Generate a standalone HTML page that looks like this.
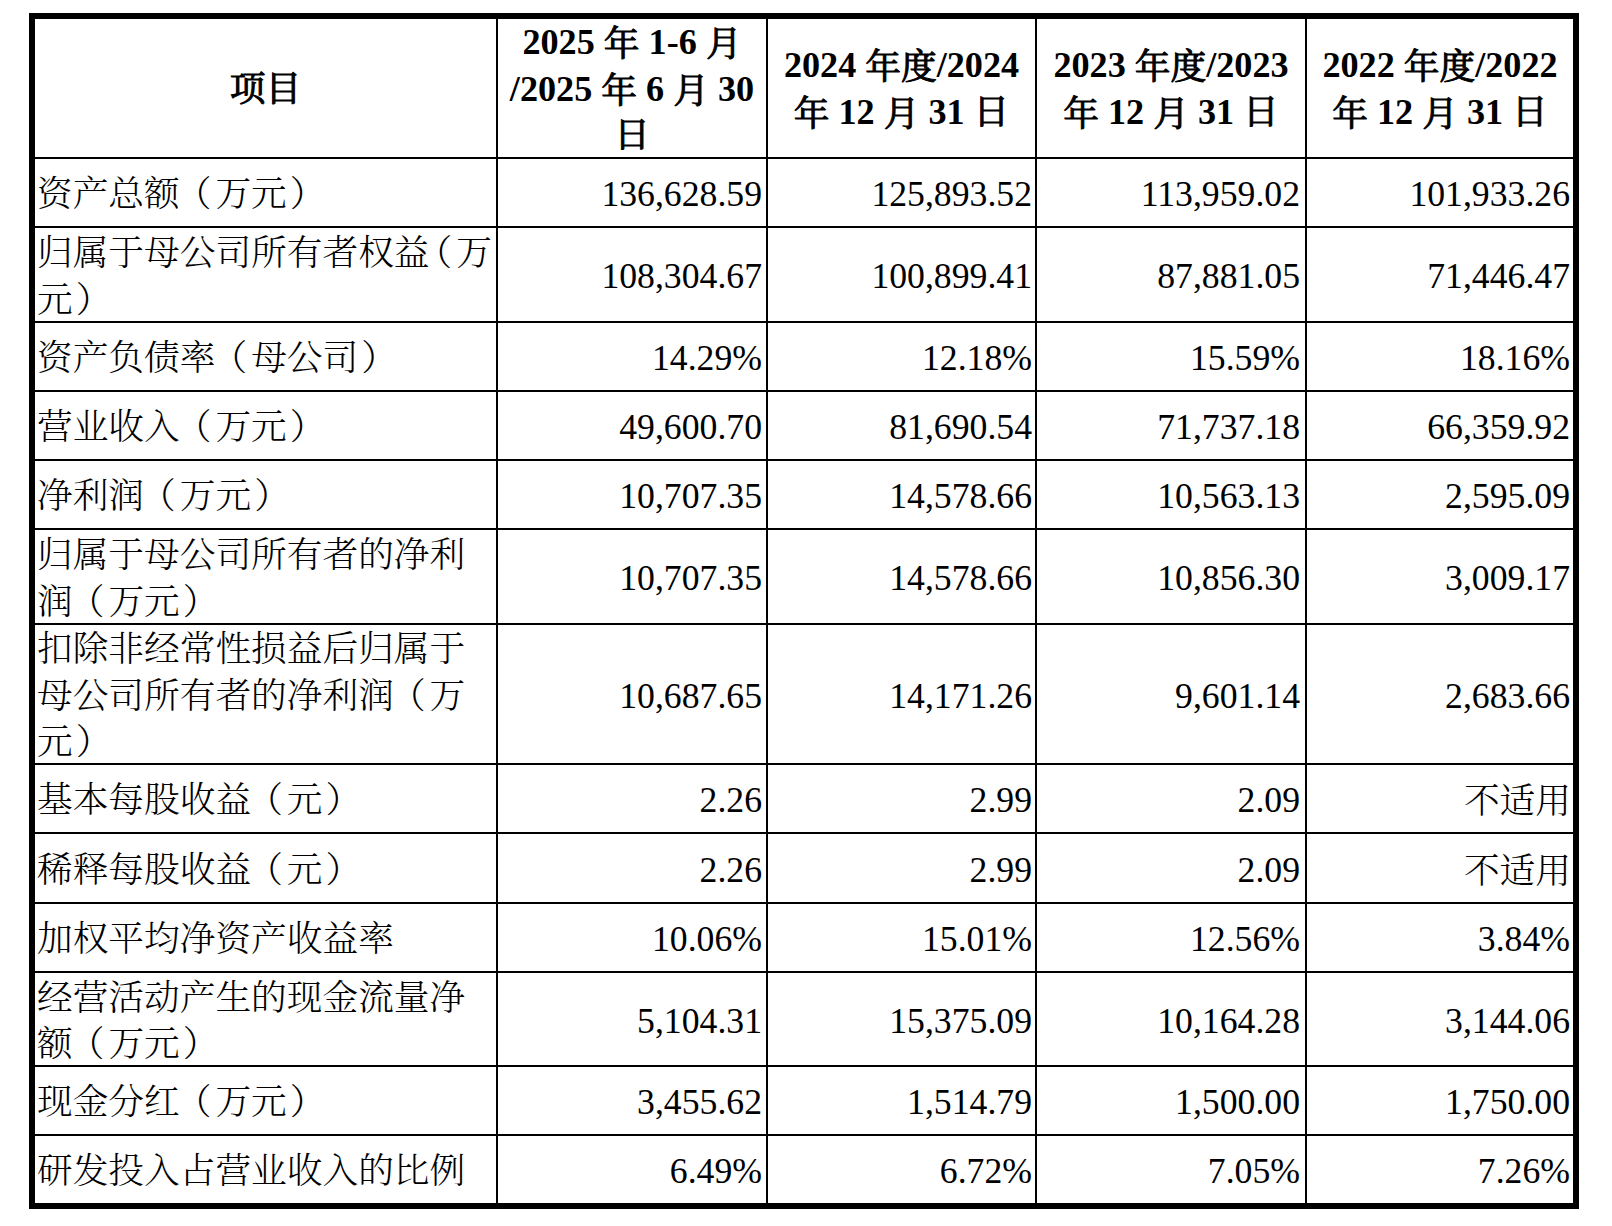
<!DOCTYPE html>
<html lang="zh-CN">
<head>
<meta charset="utf-8">
<title>主要财务数据</title>
<style>
html,body{margin:0;padding:0;background:#fff;}
body{width:1612px;height:1226px;position:relative;overflow:hidden;font-family:"Liberation Serif","Noto Serif CJK SC",serif;font-size:35.7px;font-weight:300;color:#000;}
table{position:absolute;left:29px;top:13px;border:6px solid #000;border-collapse:separate;border-spacing:0;table-layout:fixed;width:1550px;}
th,td{padding:0;border:0;border-right:2px solid #000;border-bottom:2px solid #000;vertical-align:top;}
th:last-child,td:last-child{border-right:0;}
tbody tr:last-child td{border-bottom:0;}
.in{display:flex;align-items:center;box-sizing:border-box;line-height:47px;white-space:nowrap;}
td.t .in{justify-content:flex-start;padding-left:2px;line-height:46.5px;}
td.t .in>span{position:relative;top:2px;}
.po{position:relative;left:-4px;}
.pc{position:relative;left:3px;}
td.n .in{justify-content:flex-end;}
td.n .in>span{position:relative;top:2px;}
td.n .in>span.k{top:3px;}
th .in{justify-content:center;text-align:center;font-weight:600;}
th .in>span{position:relative;top:1px;font-size:36.2px;}
th span.k{font-size:35.7px;position:relative;top:2px;font-weight:400;-webkit-text-stroke:1px #000;}

</style>
</head>
<body>
<table>
<colgroup><col style="width:463px"><col style="width:270px"><col style="width:269px"><col style="width:270px"><col style="width:266px"></colgroup>
<thead><tr>
<th><div class="in" style="height:138px"><span><span class="k" style="top:0px">项目</span></span></div></th>
<th><div class="in" style="height:138px"><span>2025 <span class="k">年</span> 1-6 <span class="k">月</span><br>/2025 <span class="k">年</span> 6 <span class="k">月</span> 30<br><span class="k" style="top:-0.5px">日</span></span></div></th>
<th><div class="in" style="height:138px"><span>2024 <span class="k">年度</span>/2024<br><span class="k">年</span> 12 <span class="k">月</span> 31 <span class="k" style="top:-0.5px">日</span></span></div></th>
<th><div class="in" style="height:138px"><span>2023 <span class="k">年度</span>/2023<br><span class="k">年</span> 12 <span class="k">月</span> 31 <span class="k" style="top:-0.5px">日</span></span></div></th>
<th><div class="in" style="height:138px"><span>2022 <span class="k">年度</span>/2022<br><span class="k">年</span> 12 <span class="k">月</span> 31 <span class="k" style="top:-0.5px">日</span></span></div></th>
</tr></thead>
<tbody>
<tr><td class="t"><div class="in" style="height:67px"><span>资产总额<span class="po">（</span>万元<span class="pc">）</span></span></div></td><td class="n"><div class="in" style="height:67px;padding-right:4px"><span>136,628.59</span></div></td><td class="n"><div class="in" style="height:67px;padding-right:3px"><span>125,893.52</span></div></td><td class="n"><div class="in" style="height:67px;padding-right:5px"><span>113,959.02</span></div></td><td class="n"><div class="in" style="height:67px;padding-right:3px"><span>101,933.26</span></div></td></tr>
<tr><td class="t"><div class="in" style="height:93px"><span>归属于母公司所有者权益<span style="margin-left:-9px"><span class="po">（</span></span>万<br>元<span class="pc">）</span></span></div></td><td class="n"><div class="in" style="height:93px;padding-right:4px"><span>108,304.67</span></div></td><td class="n"><div class="in" style="height:93px;padding-right:3px"><span>100,899.41</span></div></td><td class="n"><div class="in" style="height:93px;padding-right:5px"><span>87,881.05</span></div></td><td class="n"><div class="in" style="height:93px;padding-right:3px"><span>71,446.47</span></div></td></tr>
<tr><td class="t"><div class="in" style="height:67px"><span>资产负债率<span class="po">（</span>母公司<span class="pc">）</span></span></div></td><td class="n"><div class="in" style="height:67px;padding-right:4px"><span>14.29%</span></div></td><td class="n"><div class="in" style="height:67px;padding-right:3px"><span>12.18%</span></div></td><td class="n"><div class="in" style="height:67px;padding-right:5px"><span>15.59%</span></div></td><td class="n"><div class="in" style="height:67px;padding-right:3px"><span>18.16%</span></div></td></tr>
<tr><td class="t"><div class="in" style="height:67px"><span>营业收入<span class="po">（</span>万元<span class="pc">）</span></span></div></td><td class="n"><div class="in" style="height:67px;padding-right:4px"><span>49,600.70</span></div></td><td class="n"><div class="in" style="height:67px;padding-right:3px"><span>81,690.54</span></div></td><td class="n"><div class="in" style="height:67px;padding-right:5px"><span>71,737.18</span></div></td><td class="n"><div class="in" style="height:67px;padding-right:3px"><span>66,359.92</span></div></td></tr>
<tr><td class="t"><div class="in" style="height:67px"><span>净利润<span class="po">（</span>万元<span class="pc">）</span></span></div></td><td class="n"><div class="in" style="height:67px;padding-right:4px"><span>10,707.35</span></div></td><td class="n"><div class="in" style="height:67px;padding-right:3px"><span>14,578.66</span></div></td><td class="n"><div class="in" style="height:67px;padding-right:5px"><span>10,563.13</span></div></td><td class="n"><div class="in" style="height:67px;padding-right:3px"><span>2,595.09</span></div></td></tr>
<tr><td class="t"><div class="in" style="height:93px"><span>归属于母公司所有者的净利<br>润<span class="po">（</span>万元<span class="pc">）</span></span></div></td><td class="n"><div class="in" style="height:93px;padding-right:4px"><span>10,707.35</span></div></td><td class="n"><div class="in" style="height:93px;padding-right:3px"><span>14,578.66</span></div></td><td class="n"><div class="in" style="height:93px;padding-right:5px"><span>10,856.30</span></div></td><td class="n"><div class="in" style="height:93px;padding-right:3px"><span>3,009.17</span></div></td></tr>
<tr><td class="t"><div class="in" style="height:138px"><span>扣除非经常性损益后归属于<br>母公司所有者的净利润<span class="po">（</span>万<br>元<span class="pc">）</span></span></div></td><td class="n"><div class="in" style="height:138px;padding-right:4px"><span>10,687.65</span></div></td><td class="n"><div class="in" style="height:138px;padding-right:3px"><span>14,171.26</span></div></td><td class="n"><div class="in" style="height:138px;padding-right:5px"><span>9,601.14</span></div></td><td class="n"><div class="in" style="height:138px;padding-right:3px"><span>2,683.66</span></div></td></tr>
<tr><td class="t"><div class="in" style="height:67px"><span>基本每股收益<span class="po">（</span>元<span class="pc">）</span></span></div></td><td class="n"><div class="in" style="height:67px;padding-right:4px"><span>2.26</span></div></td><td class="n"><div class="in" style="height:67px;padding-right:3px"><span>2.99</span></div></td><td class="n"><div class="in" style="height:67px;padding-right:5px"><span>2.09</span></div></td><td class="n"><div class="in" style="height:67px;padding-right:2px"><span class="k">不适用</span></div></td></tr>
<tr><td class="t"><div class="in" style="height:68px"><span>稀释每股收益<span class="po">（</span>元<span class="pc">）</span></span></div></td><td class="n"><div class="in" style="height:68px;padding-right:4px"><span>2.26</span></div></td><td class="n"><div class="in" style="height:68px;padding-right:3px"><span>2.99</span></div></td><td class="n"><div class="in" style="height:68px;padding-right:5px"><span>2.09</span></div></td><td class="n"><div class="in" style="height:68px;padding-right:2px"><span class="k">不适用</span></div></td></tr>
<tr><td class="t"><div class="in" style="height:67px"><span>加权平均净资产收益率</span></div></td><td class="n"><div class="in" style="height:67px;padding-right:4px"><span>10.06%</span></div></td><td class="n"><div class="in" style="height:67px;padding-right:3px"><span>15.01%</span></div></td><td class="n"><div class="in" style="height:67px;padding-right:5px"><span>12.56%</span></div></td><td class="n"><div class="in" style="height:67px;padding-right:3px"><span>3.84%</span></div></td></tr>
<tr><td class="t"><div class="in" style="height:92px"><span>经营活动产生的现金流量净<br>额<span class="po">（</span>万元<span class="pc">）</span></span></div></td><td class="n"><div class="in" style="height:92px;padding-right:4px"><span>5,104.31</span></div></td><td class="n"><div class="in" style="height:92px;padding-right:3px"><span>15,375.09</span></div></td><td class="n"><div class="in" style="height:92px;padding-right:5px"><span>10,164.28</span></div></td><td class="n"><div class="in" style="height:92px;padding-right:3px"><span>3,144.06</span></div></td></tr>
<tr><td class="t"><div class="in" style="height:67px"><span>现金分红<span class="po">（</span>万元<span class="pc">）</span></span></div></td><td class="n"><div class="in" style="height:67px;padding-right:4px"><span>3,455.62</span></div></td><td class="n"><div class="in" style="height:67px;padding-right:3px"><span>1,514.79</span></div></td><td class="n"><div class="in" style="height:67px;padding-right:5px"><span>1,500.00</span></div></td><td class="n"><div class="in" style="height:67px;padding-right:3px"><span>1,750.00</span></div></td></tr>
<tr><td class="t"><div class="in" style="height:67px"><span>研发投入占营业收入的比例</span></div></td><td class="n"><div class="in" style="height:67px;padding-right:4px"><span>6.49%</span></div></td><td class="n"><div class="in" style="height:67px;padding-right:3px"><span>6.72%</span></div></td><td class="n"><div class="in" style="height:67px;padding-right:5px"><span>7.05%</span></div></td><td class="n"><div class="in" style="height:67px;padding-right:3px"><span>7.26%</span></div></td></tr>
</tbody>
</table>
</body>
</html>
